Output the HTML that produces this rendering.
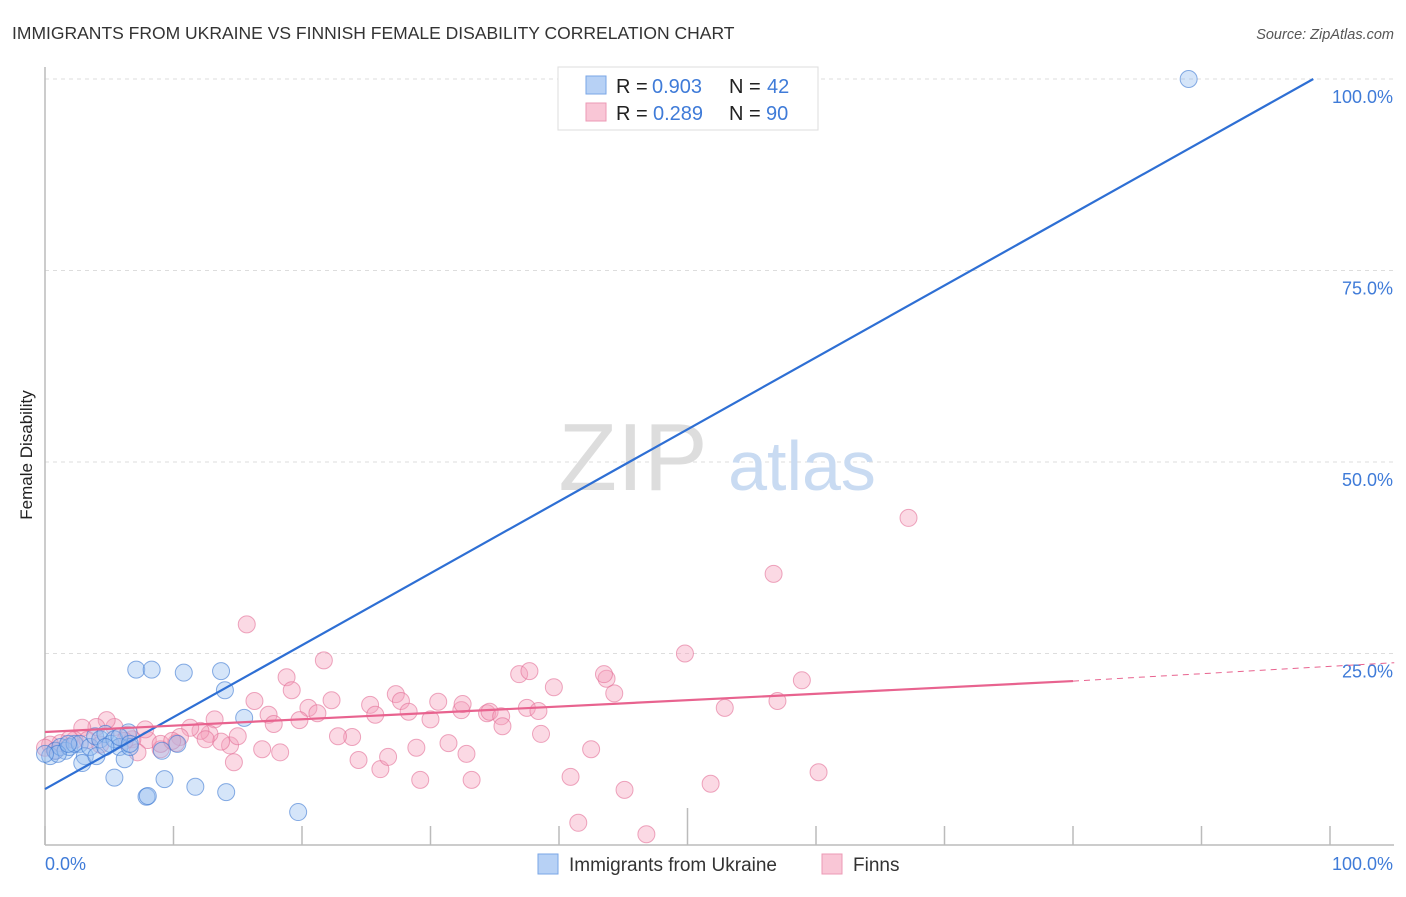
<!DOCTYPE html>
<html><head><meta charset="utf-8">
<style>
body{margin:0;background:#fff;font-family:"Liberation Sans",sans-serif;}
svg text{font-family:"Liberation Sans",sans-serif;}
</style></head>
<body>
<svg width="1406" height="892" xmlns="http://www.w3.org/2000/svg">
<text x="12" y="39" font-size="17.5" fill="#333">IMMIGRANTS FROM UKRAINE VS FINNISH FEMALE DISABILITY CORRELATION CHART</text>
<text x="1394" y="39" font-size="14.5" fill="#555" font-style="italic" text-anchor="end">Source: ZipAtlas.com</text>
<g id="grid"></g>
<text x="633" y="490" font-size="96" fill="#ddd" font-family="Liberation Serif" text-anchor="middle">ZIP</text>
<text x="802" y="490" font-size="70" fill="#c9dbf2" text-anchor="middle">atlas</text>
<line x1="45" y1="67" x2="45" y2="845" stroke="#bbb" stroke-width="1.5"/>
<line x1="45" y1="845" x2="1394" y2="845" stroke="#bbb" stroke-width="1.5"/>
<g id="marks"></g>
<text x="32" y="455" font-size="17" fill="#222" text-anchor="middle" transform="rotate(-90 32 455)">Female Disability</text>
<text x="45" y="870" font-size="18" fill="#3f7bd8">0.0%</text>
<text x="1393" y="870" font-size="18" fill="#3f7bd8" text-anchor="end">100.0%</text>
<g>
<rect x="558" y="67" width="260" height="63" fill="#fff" stroke="#ddd"/>
<rect x="586" y="76" width="20" height="18" fill="#b7d1f5" stroke="#7aa6e6"/>
<rect x="586" y="103" width="20" height="18" fill="#f9c6d6" stroke="#ec9ab5"/>
<text x="616" y="93" font-size="20" fill="#222">R =</text><text x="652" y="93" font-size="20" fill="#3f7bd8">0.903</text>
<text x="729" y="93" font-size="20" fill="#222">N =</text><text x="767" y="93" font-size="20" fill="#3f7bd8">42</text>
<text x="616" y="120" font-size="20" fill="#222">R =</text><text x="653" y="120" font-size="20" fill="#3f7bd8">0.289</text>
<text x="729" y="120" font-size="20" fill="#222">N =</text><text x="766" y="120" font-size="20" fill="#3f7bd8">90</text>
</g>
<g><rect x="538" y="854" width="20" height="20" fill="#b7d1f5" stroke="#7aa6e6"/><text x="569" y="871" font-size="19" fill="#333">Immigrants from Ukraine</text></g>
<g><rect x="822" y="854" width="20" height="20" fill="#f9c6d6" stroke="#ec9ab5"/><text x="853" y="871" font-size="19" fill="#333">Finns</text></g>
</svg>
<script>
const yTicks=[25,50,75,100];
const xTickVals=[0,10,20,30,40,50,60,70,80,90,100];
const blueX=[0.4,0.8,1.2,1.6,1.9,2.3,2.7,3.1,3.5,3.9,4.3,4.7,5.1,5.4,5.8,6.2,6.5,6.6,5.4,2.9,4,7.1,8.3,10.8,13.7,14,15.5,10.3,9.1,9.3,11.7,14.1,7.9,8,19.7,89.0,1,1.8,4.7,5.8,6.6,0];
const blueY=[11.6,12.3,12.8,12.3,12.8,13.2,13.2,11.6,12.8,14.2,13.8,14.5,13.2,13.8,12.8,11.2,14.7,12.8,8.8,10.7,11.6,22.9,22.9,22.5,22.7,20.2,16.6,13.2,12.3,8.6,7.6,6.9,6.3,6.4,4.3,100,11.9,13.2,12.8,14.1,13.2,11.9];
const pinkX=[15.7,21.7,49.8,67.2,56.7,36.9,37.7,43.7,43.5,44.3,39.6,58.9,57,52.9,18.8,19.2,16.3,17.4,20.5,21.2,22.3,25.3,25.7,27.3,27.7,28.3,30.6,30,34.4,34.6,35.5,35.6,37.5,38.4,38.6,32.4,32.5,23.9,22.8,19.8,17.8,16.9,18.3,24.4,26.1,26.7,28.9,31.4,32.8,29.2,33.2,40.9,42.5,45.1,51.8,60.2,41.5,46.8,13.2,14.4,14.7,13.7,12.8,12.1,11.3,10.5,10.2,9,8,7.8,6.8,6.4,5.4,4.8,4,2.9,2.3,1.9,1.2,0.4,0,0.8,3.3,4.3,7.2,6.2,9,9.9,12.5,15];
const pinkY=[28.8,24.1,25,42.7,35.4,22.3,22.7,21.7,22.3,19.8,20.6,21.5,18.8,17.9,21.9,20.2,18.8,17,17.9,17.2,18.9,18.3,17,19.7,18.8,17.4,18.7,16.4,17.2,17.4,16.8,15.5,17.9,17.5,14.5,17.6,18.4,14.1,14.2,16.3,15.8,12.5,12.1,11.1,9.9,11.5,12.7,13.3,11.9,8.5,8.5,8.9,12.5,7.2,8,9.5,2.9,1.4,16.4,13,10.8,13.5,14.5,14.9,15.3,14.1,13.3,12.5,13.7,15.1,13.8,14.4,15.4,16.3,15.4,15.3,13.7,13.8,13.3,13.1,12.7,12.3,13.7,13.1,12.1,13.6,13.2,13.6,13.8,14.2];
const blueLine=[0,7.3,98.7,100];
const pinkLine=[0,14.75,80,21.4,105,23.8];
const L=45,R=1330,T=79,B=845;
const sx=v=>L+(R-L)*v/100, sy=v=>B-(B-T)*v/100;
const NS="http://www.w3.org/2000/svg";
const grid=document.getElementById('grid'), marks=document.getElementById('marks');
function mk(tag,attrs,parent){const e=document.createElementNS(NS,tag);for(const k in attrs)e.setAttribute(k,attrs[k]);parent.appendChild(e);return e;}
yTicks.forEach(v=>{
 const l=mk('line',{x1:L,x2:1394,y1:sy(v),y2:sy(v),stroke:'#ddd','stroke-dasharray':'4,4'},grid);
 
 
 const t=mk('text',{x:1393,y:sy(v)+24,'font-size':18,fill:'#3f7bd8','text-anchor':'end'},grid);
 t.textContent=v.toFixed(1)+'%';
 
 
});
xTickVals.forEach((v,i)=>{
 const l=mk('line',{x1:sx(v),x2:sx(v),y1:(i==5)?808:826,y2:845,stroke:'#bbb','stroke-width':1.5},grid);
 
 
});
pinkX.forEach((x,i)=>{
 const c=mk('circle',{cx:sx(x),cy:sy(pinkY[i]),r:8.5,fill:'rgba(244,160,188,0.4)',stroke:'rgba(226,110,150,0.6)','stroke-width':1},marks);
 
 
});
blueX.forEach((x,i)=>{
 const c=mk('circle',{cx:sx(x),cy:sy(blueY[i]),r:8.5,fill:'rgba(150,190,240,0.4)',stroke:'rgba(60,120,210,0.6)','stroke-width':1},marks);
 
 
});
let bl=mk('line',{x1:sx(blueLine[0]),y1:sy(blueLine[1]),x2:sx(blueLine[2]),y2:sy(blueLine[3]),stroke:'#2e6fd4','stroke-width':2.2},marks);


let pl=mk('line',{x1:sx(pinkLine[0]),y1:sy(pinkLine[1]),x2:sx(pinkLine[2]),y2:sy(pinkLine[3]),stroke:'#e8638f','stroke-width':2.2},marks);


let pd=mk('line',{x1:sx(pinkLine[2]),y1:sy(pinkLine[3]),x2:sx(pinkLine[4]),y2:sy(pinkLine[5]),stroke:'#e8638f','stroke-width':1,'stroke-dasharray':'6,5'},marks);


</script>
</body></html>
